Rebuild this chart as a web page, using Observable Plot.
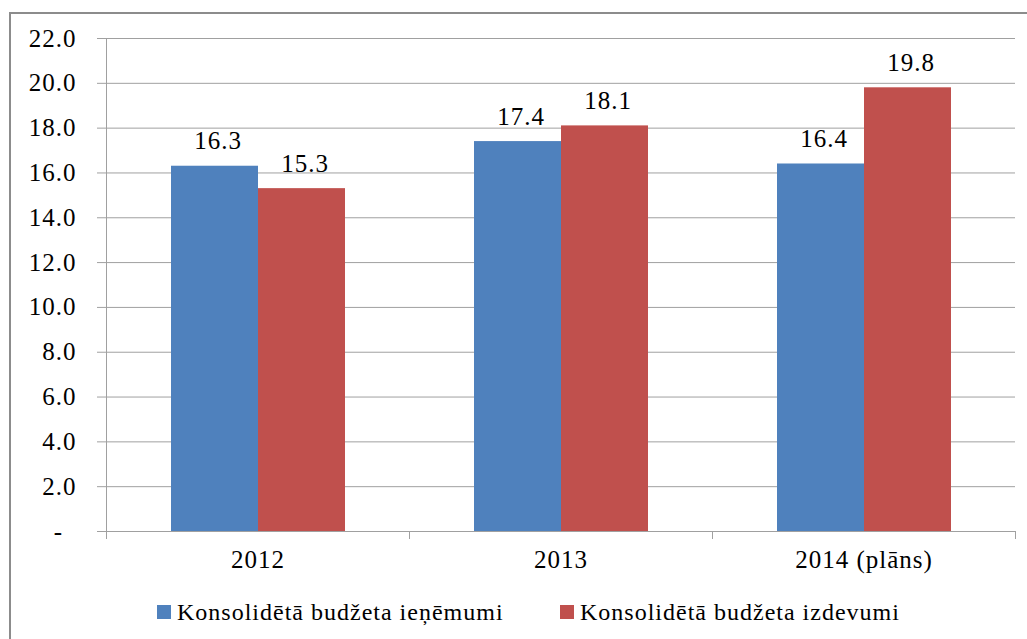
<!DOCTYPE html>
<html>
<head>
<meta charset="utf-8">
<script src="https://cdn.jsdelivr.net/npm/d3@7"></script>
<script src="https://cdn.jsdelivr.net/npm/@observablehq/plot@0.6"></script>
<style>
  html, body { margin: 0; padding: 0; background: #fff; overflow: hidden; width: 1027px; height: 639px; }
  #frame { position: absolute; left: 9px; top: 12px; width: 1100px; height: 700px; border: 2px solid #8c8c8c; box-sizing: border-box; }
  #chart { position: absolute; left: 0; top: 0; }
  #chart svg text { letter-spacing: 1px; }
  .legend-item { position: absolute; top: 600px; display: flex; align-items: center; font-family: 'Liberation Serif', 'Times New Roman', serif; font-size: 24px; letter-spacing: 1px; line-height: 1; color: #000; white-space: nowrap; }
  .swatch { width: 14px; height: 14px; margin-right: 6px; }
</style>
</head>
<body>
<div id="frame"></div>
<div id="chart"></div>
<div id="legend"></div>
<script>
// ---- data ----
const years = ["2012", "2013", "2014 (plāns)"];
const series = ["Konsolidētā budžeta ieņēmumi", "Konsolidētā budžeta izdevumi"];
const revenue = [16.3, 17.4, 16.4];
const expenditure = [15.3, 18.1, 19.8];
const yTicks = [0, 2, 4, 6, 8, 10, 12, 14, 16, 18, 20, 22];
const colors = ["#4F81BD", "#C0504D"];
const legendLeft = [157, 560];

const GRID = "#a0a0a0";
const FONT = "'Liberation Serif', 'Times New Roman', serif";
const yMax = yTicks[yTicks.length - 1];

const rows = [];
years.forEach((yr, i) => {
  rows.push({year: yr, series: series[0], value: revenue[i]});
  rows.push({year: yr, series: series[1], value: expenditure[i]});
});

const plot = Plot.plot({
  width: 1027,
  height: 580,
  marginTop: 38,
  marginBottom: 49,
  marginLeft: 106,
  marginRight: 12,
  style: {fontFamily: FONT, fontSize: "25px", color: "#000", background: "transparent", overflow: "visible"},
  fx: {domain: years, padding: 0, label: null},
  x: {domain: series, paddingInner: 0, paddingOuter: 0.741, axis: null},
  y: {domain: [0, yMax], label: null},
  color: {domain: series, range: colors},
  marks: [
    Plot.gridY(yTicks, {stroke: GRID, strokeOpacity: 1}),
    Plot.axisY(yTicks, {
      tickSize: 9, tickPadding: 21, stroke: GRID, fill: "#000", fontSize: 25, label: null,
      tickFormat: d => d === 0 ? "-\u2002" : d.toFixed(1)
    }),
    Plot.axisFx({anchor: "bottom", tickSize: 0, tickPadding: 19, fontSize: 25, label: null, fill: "#000"}),
    Plot.barY(rows, {fx: "year", x: "series", y: "value", fill: "series"}),
    Plot.ruleY([0], {stroke: GRID}),
    Plot.text(rows, {
      fx: "year", x: "series", y: "value", text: d => d.value.toFixed(1),
      dy: -17, dx: 3, lineAnchor: "bottom", fontSize: 25, fill: "#000"
    })
  ]
});

// axis line and category boundary ticks, placed with the plot's own scales
const fxS = plot.scale("fx");
const yS = plot.scale("y");
const bw = fxS.bandwidth;
const edges = years.map(d => fxS.apply(d)).concat([fxS.apply(years[years.length - 1]) + bw]);
const y0 = yS.apply(0), yTop = yS.apply(yMax);
const g = d3.select(plot).append("g").attr("stroke", GRID).attr("stroke-width", 1);
g.append("line").attr("x1", edges[0] + 0.5).attr("x2", edges[0] + 0.5).attr("y1", yTop).attr("y2", y0);
edges.forEach(x => {
  g.append("line").attr("x1", Math.round(x) + 0.5).attr("x2", Math.round(x) + 0.5).attr("y1", y0).attr("y2", y0 + 8);
});

document.getElementById("chart").appendChild(plot);

// legend
const legend = document.getElementById("legend");
series.forEach((s, i) => {
  const item = document.createElement("div");
  item.className = "legend-item";
  item.style.left = legendLeft[i] + "px";
  const sw = document.createElement("div");
  sw.className = "swatch";
  sw.style.background = colors[i];
  const t = document.createElement("span");
  t.textContent = s;
  item.appendChild(sw);
  item.appendChild(t);
  legend.appendChild(item);
});
</script>
</body>
</html>
